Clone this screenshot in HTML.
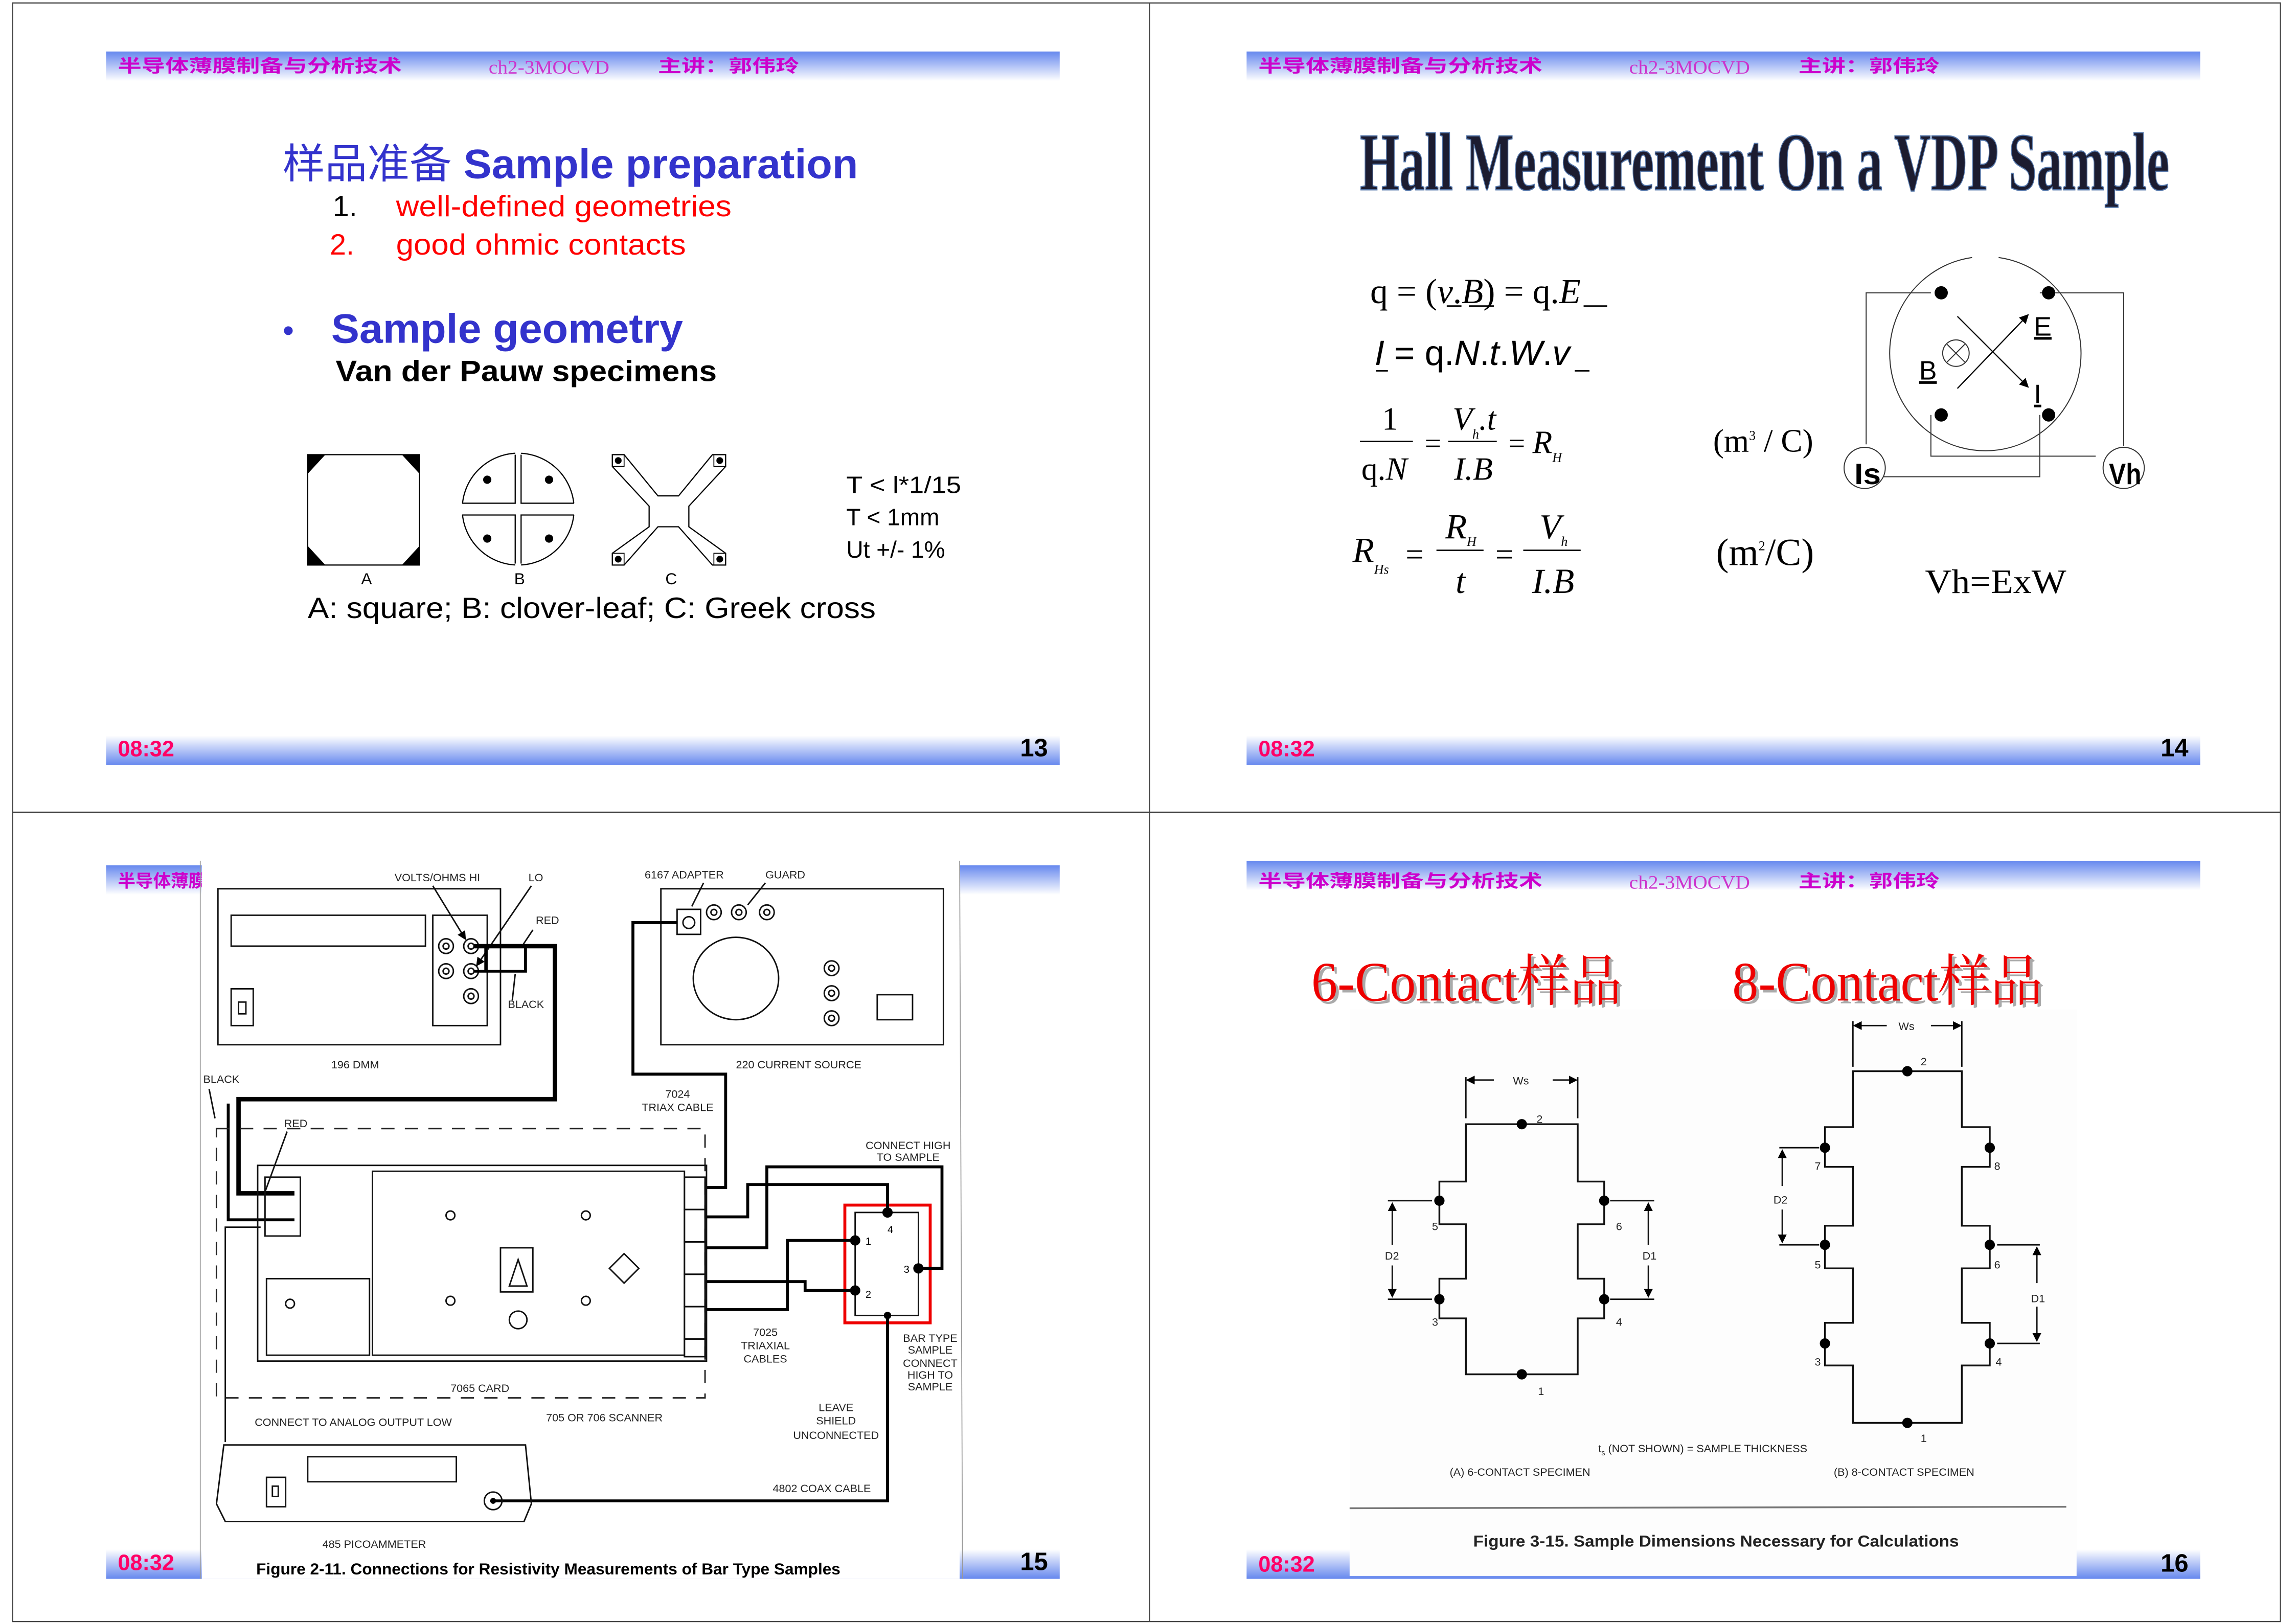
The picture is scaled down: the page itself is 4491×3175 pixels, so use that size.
<!DOCTYPE html>
<html><head><meta charset="utf-8"><style>
html,body{margin:0;padding:0;background:#fff;}
svg{display:block;}
text{font-family:"Liberation Sans","Noto Sans CJK SC",sans-serif;}
text.serif,.serif text{font-family:"Liberation Serif","Noto Serif CJK SC",serif;}
.hd{font-weight:bold;fill:#cc00cc;font-size:12px;}
text.hm{fill:#cc33cc;font-size:13px;font-family:"Liberation Serif",serif;}
.tm{font-weight:bold;fill:#ff0066;font-size:15px;}
.pg{font-weight:bold;fill:#000;font-size:17px;}
.sm{font-size:7.5px;fill:#222;}
.ln{stroke:#111;fill:none;stroke-width:1;}
.tw{stroke:#000;fill:none;stroke-width:3;}
</style></head><body>
<svg width="4491" height="3175" viewBox="0 0 1560 1103" xmlns="http://www.w3.org/2000/svg">
<defs>
<linearGradient id="hg" x1="0" y1="0" x2="0" y2="1"><stop offset="0" stop-color="#6688ee"/><stop offset="1" stop-color="#ffffff"/></linearGradient>
<linearGradient id="fg" x1="0" y1="0" x2="0" y2="1"><stop offset="0" stop-color="#ffffff"/><stop offset="1" stop-color="#6688ee"/></linearGradient>
<marker id="ar" markerWidth="8" markerHeight="8" refX="7" refY="4" orient="auto"><path d="M0,0 L8,4 L0,8 z" fill="#000"/></marker>
<marker id="sa" markerWidth="6" markerHeight="6" refX="5" refY="3" orient="auto"><path d="M0,0 L6,3 L0,6 z" fill="#000"/></marker>
</defs>
<rect x="0" y="0" width="1560" height="1103" fill="#fff"/>
<rect x="8.5" y="2" width="1541" height="1100" fill="none" stroke="#444" stroke-width="0.8"/>
<line x1="781" y1="2" x2="781" y2="1102" stroke="#444" stroke-width="0.8"/>
<line x1="8.5" y1="552" x2="1550" y2="552" stroke="#444" stroke-width="0.8"/>

<!-- ================= SLIDE 1 ================= -->
<rect x="72" y="35" width="648" height="20" fill="url(#hg)"/>
<rect x="72" y="500" width="648" height="20" fill="url(#fg)"/>
<text x="80" y="49" class="hd" textLength="193" lengthAdjust="spacingAndGlyphs">半导体薄膜制备与分析技术</text>
<text x="332" y="50" class="hm" textLength="82" lengthAdjust="spacingAndGlyphs">ch2-3MOCVD</text>
<text x="447" y="49" class="hd" textLength="96" lengthAdjust="spacingAndGlyphs">主讲：郭伟玲</text>
<text x="80" y="514" class="tm">08:32</text>
<text x="712" y="514" class="pg" text-anchor="end">13</text>

<text x="192" y="121" font-size="28" fill="#3333cc" textLength="391" lengthAdjust="spacingAndGlyphs">样品准备 <tspan font-weight="bold">Sample preparation</tspan></text>
<text x="226" y="147" font-size="20" fill="#000">1.</text>
<text x="269" y="147" font-size="20" fill="#ff0000" textLength="228" lengthAdjust="spacingAndGlyphs">well-defined geometries</text>
<text x="224" y="173" font-size="20" fill="#ff0000">2.</text>
<text x="269" y="173" font-size="20" fill="#ff0000" textLength="197" lengthAdjust="spacingAndGlyphs">good ohmic contacts</text>
<text x="192" y="232" font-size="22" fill="#3333cc">•</text>
<text x="225" y="233" font-size="28" font-weight="bold" fill="#3333cc" textLength="239" lengthAdjust="spacingAndGlyphs">Sample geometry</text>
<text x="228" y="259" font-size="20" font-weight="bold" fill="#000" textLength="259" lengthAdjust="spacingAndGlyphs">Van der Pauw specimens</text>

<rect x="209" y="309" width="76" height="75" fill="#fff" stroke="#000" stroke-width="0.8"/>
<path d="M209,309 L221,309 L209,322 Z M285,309 L273,309 L285,322 Z M209,384 L209,371 L221,384 Z M285,384 L285,371 L273,384 Z" fill="#000"/>
<text x="249" y="397" font-size="11" text-anchor="middle">A</text>
<ellipse cx="352" cy="346" rx="38" ry="38" fill="#fff" stroke="#000" stroke-width="0.8"/>
<rect x="350" y="307" width="4" height="78" fill="#fff"/><rect x="313" y="342" width="78" height="8" fill="#fff"/>
<path d="M350,309 V342 H314 M354,309 V342 H390 M350,383 V350 H314 M354,383 V350 H390" fill="none" stroke="#000" stroke-width="0.8"/>
<circle cx="331" cy="326" r="2.8"/><circle cx="373" cy="326" r="2.8"/><circle cx="331" cy="366" r="2.8"/><circle cx="373" cy="366" r="2.8"/>
<text x="353" y="397" font-size="11" text-anchor="middle">B</text>
<path d="M416,309 H424 L447,337 H461 L484,309 H493 V317 L468,344 V358 L493,376 V384 H484 L461,358 H447 L424,384 H416 V376 L441,358 V344 L416,317 Z" fill="#fff" stroke="#000" stroke-width="0.8"/>
<rect x="416" y="309" width="8" height="8" fill="none" stroke="#000" stroke-width="0.6"/><rect x="485" y="309" width="8" height="8" fill="none" stroke="#000" stroke-width="0.6"/>
<rect x="416" y="376" width="8" height="8" fill="none" stroke="#000" stroke-width="0.6"/><rect x="485" y="376" width="8" height="8" fill="none" stroke="#000" stroke-width="0.6"/>
<circle cx="420" cy="313" r="2.3"/><circle cx="489" cy="313" r="2.3"/><circle cx="420" cy="380" r="2.3"/><circle cx="489" cy="380" r="2.3"/>
<text x="456" y="397" font-size="11" text-anchor="middle">C</text>
<text x="575" y="335" font-size="16" textLength="78" lengthAdjust="spacingAndGlyphs">T &lt; l*1/15</text>
<text x="575" y="357" font-size="16">T &lt; 1mm</text>
<text x="575" y="379" font-size="16">Ut +/- 1%</text>
<text x="209" y="420" font-size="20" textLength="386" lengthAdjust="spacingAndGlyphs">A: square; B: clover-leaf; C: Greek cross</text>

<!-- ================= SLIDE 2 ================= -->
<rect x="847" y="35" width="648" height="20" fill="url(#hg)"/>
<rect x="847" y="500" width="648" height="20" fill="url(#fg)"/>
<text x="855" y="49" class="hd" textLength="193" lengthAdjust="spacingAndGlyphs">半导体薄膜制备与分析技术</text>
<text x="1107" y="50" class="hm" textLength="82" lengthAdjust="spacingAndGlyphs">ch2-3MOCVD</text>
<text x="1222" y="49" class="hd" textLength="96" lengthAdjust="spacingAndGlyphs">主讲：郭伟玲</text>
<text x="855" y="514" class="tm">08:32</text>
<text x="1487" y="514" class="pg" text-anchor="end">14</text>

<text x="924" y="129" class="serif" font-size="56" font-weight="bold" fill="#1c1c30" stroke="#5577aa" stroke-width="0.8" textLength="550" lengthAdjust="spacingAndGlyphs">Hall Measurement On a VDP Sample</text>

<g fill="#000">
<text class="serif" x="931" y="206" font-size="24">q = (<tspan font-style="italic">v</tspan>.<tspan font-style="italic">B</tspan>) = q.<tspan font-style="italic">E</tspan></text>
<line x1="983" y1="208" x2="993" y2="208" stroke="#000"/><line x1="998" y1="208" x2="1015" y2="208" stroke="#000"/><line x1="1076" y1="208" x2="1092" y2="208" stroke="#000"/>
<text x="934" y="248" font-size="24"><tspan font-style="italic">I</tspan> = q.<tspan font-style="italic">N</tspan>.<tspan font-style="italic">t</tspan>.<tspan font-style="italic">W</tspan>.<tspan font-style="italic">v</tspan></text>
<line x1="935" y1="252" x2="943" y2="252" stroke="#000"/><line x1="1070" y1="252" x2="1080" y2="252" stroke="#000"/>
<text class="serif" x="939" y="292" font-size="22">1</text>
<line x1="924" y1="300" x2="960" y2="300" stroke="#000"/>
<text class="serif" x="925" y="326" font-size="22">q.<tspan font-style="italic">N</tspan></text>
<text class="serif" x="968" y="308" font-size="20">=</text>
<text class="serif" x="987" y="292" font-size="22" font-style="italic">V<tspan font-size="9" dy="6">h</tspan><tspan dy="-6">.t</tspan></text>
<line x1="984" y1="300" x2="1017" y2="300" stroke="#000"/>
<text class="serif" x="988" y="326" font-size="22" font-style="italic">I.B</text>
<text class="serif" x="1025" y="308" font-size="20">= <tspan font-style="italic" font-size="22">R</tspan><tspan font-size="9" font-style="italic" dy="6">H</tspan></text>
<text class="serif" x="1164" y="307" font-size="22">(m<tspan font-size="9" dy="-8">3</tspan><tspan dy="8"> / C)</tspan></text>
<text class="serif" x="919" y="382" font-size="24" font-style="italic">R<tspan font-size="9" dy="8">Hs</tspan></text>
<text class="serif" x="955" y="384" font-size="22">=</text>
<text class="serif" x="982" y="366" font-size="24" font-style="italic">R<tspan font-size="9" dy="5">H</tspan></text>
<line x1="976" y1="374" x2="1008" y2="374" stroke="#000"/>
<text class="serif" x="989" y="403" font-size="24" font-style="italic">t</text>
<text class="serif" x="1016" y="384" font-size="22">=</text>
<text class="serif" x="1046" y="366" font-size="24" font-style="italic">V<tspan font-size="9" dy="5">h</tspan></text>
<line x1="1035" y1="374" x2="1074" y2="374" stroke="#000"/>
<text class="serif" x="1041" y="403" font-size="24" font-style="italic">I.B</text>
<text class="serif" x="1166" y="384" font-size="26">(m<tspan font-size="9" dy="-10">2</tspan><tspan dy="10">/C)</tspan></text>
<text class="serif" x="1308" y="403" font-size="23" textLength="96" lengthAdjust="spacingAndGlyphs">Vh=ExW</text>
</g>
<path d="M1340,175 A65,66 0 1 0 1358,175" fill="none" stroke="#333" stroke-width="0.7"/>
<path d="M1312,199 H1268 V302 M1386,199 H1443 V303 M1312,282 V310 H1424 M1386,282 V324 H1276" fill="none" stroke="#333" stroke-width="0.7"/>
<circle cx="1319" cy="199" r="4.5"/><circle cx="1392" cy="199" r="4.5"/><circle cx="1319" cy="282" r="4.5"/><circle cx="1392" cy="282" r="4.5"/>
<circle cx="1267" cy="318" r="14" fill="#fff" stroke="#333" stroke-width="0.7"/>
<circle cx="1443" cy="318" r="14" fill="#fff" stroke="#333" stroke-width="0.7"/>
<text x="1260" y="329" font-size="20" font-weight="bold" textLength="18" lengthAdjust="spacingAndGlyphs">Is</text>
<text x="1433" y="329" font-size="20" font-weight="bold" textLength="22" lengthAdjust="spacingAndGlyphs">Vh</text>
<circle cx="1329" cy="240" r="9" fill="none" stroke="#333" stroke-width="0.7"/>
<path d="M1323,234 L1335,246 M1335,234 L1323,246" stroke="#333" stroke-width="0.7"/>
<text x="1304" y="258" font-size="18" text-decoration="underline">B</text>
<line x1="1330" y1="264" x2="1378" y2="214" stroke="#000" stroke-width="0.8" marker-end="url(#ar)"/>
<line x1="1330" y1="215" x2="1378" y2="263" stroke="#000" stroke-width="0.8" marker-end="url(#ar)"/>
<text x="1382" y="228" font-size="18" text-decoration="underline">E</text>
<text x="1382" y="274" font-size="18" text-decoration="underline">I</text>

<!-- ================= SLIDE 3 ================= -->
<rect x="72" y="588" width="648" height="20" fill="url(#hg)"/>
<rect x="72" y="1053" width="648" height="20" fill="url(#fg)"/>
<text x="80" y="603" class="hd">半导体薄膜制备与分析技术</text>
<rect x="137" y="585" width="515" height="488" fill="#fff"/>
<line x1="136" y1="585" x2="136" y2="1073" stroke="#999" stroke-width="0.6"/>
<line x1="652" y1="585" x2="654" y2="1073" stroke="#999" stroke-width="0.6"/>
<text x="80" y="1067" class="tm">08:32</text>
<text x="712" y="1067" class="pg" text-anchor="end">15</text>
<rect x="148" y="604" width="192" height="106" class="ln"/>
<rect x="157" y="622" width="132" height="21" class="ln"/>
<rect x="294" y="622" width="37" height="75" class="ln"/>
<rect x="157" y="672" width="15" height="25" class="ln"/><rect x="162" y="681" width="5" height="8" class="ln"/>
<g class="ln"><circle cx="303" cy="643" r="5"/><circle cx="303" cy="643" r="2"/><circle cx="320" cy="643" r="5"/><circle cx="320" cy="643" r="2"/>
<circle cx="303" cy="660" r="5"/><circle cx="303" cy="660" r="2"/><circle cx="320" cy="660" r="5"/><circle cx="320" cy="660" r="2"/>
<circle cx="320" cy="677" r="5"/><circle cx="320" cy="677" r="2"/></g>
<text x="268" y="599" class="sm">VOLTS/OHMS  HI</text><text x="359" y="599" class="sm">LO</text>
<text x="364" y="628" class="sm">RED</text><text x="345" y="685" class="sm">BLACK</text><text x="225" y="726" class="sm">196 DMM</text>
<line x1="294" y1="602" x2="316" y2="638" class="ln" marker-end="url(#sa)"/>
<line x1="361" y1="602" x2="324" y2="656" class="ln" marker-end="url(#sa)"/>
<line x1="362" y1="632" x2="354" y2="644" class="ln"/><line x1="348" y1="680" x2="350" y2="662" class="ln"/>
<path d="M322,643 H377 V747 H162 V811 H200" class="tw"/>
<path d="M322,660 H357 V644 M330,644 V660" stroke="#000" stroke-width="2" fill="none"/>
<path d="M155,750 V829 H200" stroke="#000" stroke-width="2" fill="none"/>
<rect x="449" y="604" width="192" height="106" class="ln"/>
<ellipse cx="500" cy="665" rx="29" ry="28" class="ln"/>
<rect x="460" y="618" width="16" height="17" class="ln"/><circle cx="468" cy="627" r="4" class="ln"/>
<g class="ln"><circle cx="485" cy="620" r="5"/><circle cx="485" cy="620" r="2"/><circle cx="502" cy="620" r="5"/><circle cx="502" cy="620" r="2"/><circle cx="521" cy="620" r="5"/><circle cx="521" cy="620" r="2"/>
<circle cx="565" cy="658" r="5"/><circle cx="565" cy="658" r="2"/><circle cx="565" cy="675" r="5"/><circle cx="565" cy="675" r="2"/><circle cx="565" cy="692" r="5"/><circle cx="565" cy="692" r="2"/></g>
<rect x="596" y="676" width="24" height="17" class="ln"/>
<text x="438" y="597" class="sm">6167 ADAPTER</text><text x="520" y="597" class="sm">GUARD</text>
<line x1="478" y1="600" x2="470" y2="616" class="ln"/><line x1="520" y1="600" x2="508" y2="615" class="ln"/>
<text x="500" y="726" class="sm">220 CURRENT SOURCE</text>
<path d="M460,627 H430 V730 H493 V807 H480" stroke="#000" stroke-width="2" fill="none"/>
<text x="452" y="746" class="sm">7024</text><text x="436" y="755" class="sm">TRIAX CABLE</text>
<text x="138" y="736" class="sm">BLACK</text><text x="193" y="766" class="sm">RED</text>
<line x1="142" y1="740" x2="146" y2="760" class="ln"/><line x1="195" y1="769" x2="180" y2="810" class="ln"/>
<rect x="147" y="767" width="332" height="183" fill="none" stroke="#222" stroke-width="1" stroke-dasharray="9,7"/>
<rect x="175" y="792" width="305" height="133" class="ln"/>
<rect x="253" y="796" width="212" height="125" class="ln"/>
<rect x="181" y="869" width="70" height="52" class="ln"/>
<rect x="180" y="800" width="24" height="40" class="ln"/>
<g class="ln"><rect x="465" y="800" width="14" height="22"/><rect x="465" y="822" width="14" height="22"/><rect x="465" y="844" width="14" height="22"/><rect x="465" y="866" width="14" height="22"/><rect x="465" y="888" width="14" height="22"/><rect x="465" y="910" width="14" height="12"/></g>
<g class="ln" stroke-width="0.6"><circle cx="306" cy="826" r="3"/><circle cx="398" cy="826" r="3"/><circle cx="306" cy="884" r="3"/><circle cx="398" cy="884" r="3"/><circle cx="352" cy="897" r="6"/><rect x="340" y="848" width="22" height="30"/><path d="M346,874 L352,856 L358,874 Z"/><path d="M424,852 L434,862 L424,872 L414,862 Z"/><circle cx="197" cy="886" r="3"/></g>
<text x="306" y="946" class="sm">7065 CARD</text>
<text x="173" y="969" class="sm">CONNECT TO ANALOG OUTPUT LOW</text>
<text x="371" y="966" class="sm">705 OR 706 SCANNER</text>
<path d="M177,834 H153 V980" class="ln"/>
<rect x="574" y="819" width="58" height="80" fill="none" stroke="#e00" stroke-width="2"/>
<rect x="581" y="824" width="43" height="70" class="ln"/>
<path d="M480,827 H508 V805 H603 V823 M480,848 H521 V793 H640 V862 H623 M480,871 H547 V877 H581 M480,890 H535 V843 H581 M603,894 V1020 H334" stroke="#000" stroke-width="2" fill="none"/>
<circle cx="603" cy="824" r="3.5"/><circle cx="581" cy="843" r="3.5"/><circle cx="624" cy="862" r="3.5"/><circle cx="581" cy="877" r="3.5"/><circle cx="603" cy="894" r="2.5"/>
<text x="603" y="838" font-size="7">4</text><text x="588" y="846" font-size="7">1</text><text x="614" y="865" font-size="7">3</text><text x="588" y="882" font-size="7">2</text>
<text x="617" y="781" class="sm" text-anchor="middle">CONNECT HIGH</text><text x="617" y="789" class="sm" text-anchor="middle">TO SAMPLE</text>
<text x="520" y="908" class="sm" text-anchor="middle">7025</text><text x="520" y="917" class="sm" text-anchor="middle">TRIAXIAL</text><text x="520" y="926" class="sm" text-anchor="middle">CABLES</text>
<g class="sm" text-anchor="middle"><text x="632" y="912">BAR TYPE</text><text x="632" y="920">SAMPLE</text><text x="632" y="929">CONNECT</text><text x="632" y="937">HIGH TO</text><text x="632" y="945">SAMPLE</text></g>
<g class="sm" text-anchor="middle"><text x="568" y="959">LEAVE</text><text x="568" y="968">SHIELD</text><text x="568" y="978">UNCONNECTED</text></g>
<text x="525" y="1014" class="sm">4802 COAX CABLE</text>
<path d="M152,982 H357 L361,1022 L356,1034 H153 L147,1022 Z" class="ln"/>
<rect x="209" y="990" width="101" height="17" class="ln"/>
<rect x="181" y="1004" width="13" height="20" class="ln"/><rect x="185" y="1010" width="4" height="7" class="ln"/>
<circle cx="335" cy="1020" r="6" class="ln"/><circle cx="335" cy="1020" r="2"/>
<text x="219" y="1052" class="sm">485 PICOAMMETER</text>
<text x="174" y="1070" font-size="11" font-weight="bold" textLength="397" lengthAdjust="spacingAndGlyphs">Figure 2-11. Connections for Resistivity Measurements of Bar Type Samples</text>

<!-- ================= SLIDE 4 ================= -->
<rect x="847" y="585" width="648" height="20" fill="url(#hg)"/>
<rect x="847" y="1053" width="648" height="20" fill="url(#fg)"/>
<text x="855" y="603" class="hd" textLength="193" lengthAdjust="spacingAndGlyphs">半导体薄膜制备与分析技术</text>
<text x="1107" y="604" class="hm" textLength="82" lengthAdjust="spacingAndGlyphs">ch2-3MOCVD</text>
<text x="1222" y="603" class="hd" textLength="96" lengthAdjust="spacingAndGlyphs">主讲：郭伟玲</text>
<rect x="917" y="686" width="494" height="385" fill="#fdfdfd"/>
<text x="855" y="1068" class="tm">08:32</text>
<text x="1487" y="1068" class="pg" text-anchor="end">16</text>
<text x="893" y="682" class="serif" font-size="38" fill="#aaa" textLength="211" lengthAdjust="spacingAndGlyphs">6-Contact样品</text>
<text x="891" y="680" class="serif" font-size="38" fill="#ee0000" textLength="211" lengthAdjust="spacingAndGlyphs">6-Contact样品</text>
<text x="1179" y="682" class="serif" font-size="38" fill="#aaa" textLength="211" lengthAdjust="spacingAndGlyphs">8-Contact样品</text>
<text x="1177" y="680" class="serif" font-size="38" fill="#ee0000" textLength="211" lengthAdjust="spacingAndGlyphs">8-Contact样品</text>
<path d="M996,764 H1072 V803 H1090 V832 H1072 V869 H1090 V896 H1072 V934 H996 V896 H978 V869 H996 V832 H978 V803 H996 Z" fill="none" stroke="#111" stroke-width="1.2"/>
<g><circle cx="1034" cy="764" r="3.5"/><circle cx="1034" cy="934" r="3.5"/><circle cx="978" cy="816" r="3.5"/><circle cx="978" cy="883" r="3.5"/><circle cx="1090" cy="816" r="3.5"/><circle cx="1090" cy="883" r="3.5"/></g>
<path d="M996,732 V760 M1072,732 V760" class="ln" stroke-width="0.7"/>
<line x1="1015" y1="734" x2="997" y2="734" class="ln" stroke-width="0.7" marker-end="url(#sa)"/><line x1="1055" y1="734" x2="1071" y2="734" class="ln" stroke-width="0.7" marker-end="url(#sa)"/>
<text x="1028" y="737" class="sm">Ws</text>
<path d="M943,816 H973 M943,883 H973 M1094,816 H1124 M1094,883 H1124" class="ln" stroke-width="0.7"/>
<line x1="946" y1="846" x2="946" y2="818" class="ln" stroke-width="0.7" marker-end="url(#sa)"/><line x1="946" y1="860" x2="946" y2="881" class="ln" stroke-width="0.7" marker-end="url(#sa)"/>
<line x1="1120" y1="846" x2="1120" y2="818" class="ln" stroke-width="0.7" marker-end="url(#sa)"/><line x1="1120" y1="860" x2="1120" y2="881" class="ln" stroke-width="0.7" marker-end="url(#sa)"/>
<text x="941" y="856" class="sm">D2</text><text x="1116" y="856" class="sm">D1</text>
<g class="sm"><text x="1044" y="763">2</text><text x="1045" y="948">1</text><text x="973" y="836">5</text><text x="973" y="901">3</text><text x="1098" y="836">6</text><text x="1098" y="901">4</text></g>
<path d="M1259,728 H1333 V766 H1352 V793 H1333 V833 H1352 V862 H1333 V899 H1352 V928 H1333 V967 H1259 V928 H1240 V899 H1259 V862 H1240 V833 H1259 V793 H1240 V766 H1259 Z" fill="none" stroke="#111" stroke-width="1.2"/>
<g><circle cx="1296" cy="728" r="3.5"/><circle cx="1296" cy="967" r="3.5"/><circle cx="1240" cy="780" r="3.5"/><circle cx="1240" cy="846" r="3.5"/><circle cx="1240" cy="913" r="3.5"/><circle cx="1352" cy="780" r="3.5"/><circle cx="1352" cy="846" r="3.5"/><circle cx="1352" cy="913" r="3.5"/></g>
<path d="M1259,694 V725 M1333,694 V725" class="ln" stroke-width="0.7"/>
<line x1="1282" y1="697" x2="1260" y2="697" class="ln" stroke-width="0.7" marker-end="url(#sa)"/><line x1="1312" y1="697" x2="1332" y2="697" class="ln" stroke-width="0.7" marker-end="url(#sa)"/>
<text x="1290" y="700" class="sm">Ws</text>
<path d="M1209,780 H1236 M1209,846 H1236 M1357,846 H1386 M1357,913 H1386" class="ln" stroke-width="0.7"/>
<line x1="1211" y1="806" x2="1211" y2="782" class="ln" stroke-width="0.7" marker-end="url(#sa)"/><line x1="1211" y1="822" x2="1211" y2="844" class="ln" stroke-width="0.7" marker-end="url(#sa)"/>
<line x1="1384" y1="872" x2="1384" y2="848" class="ln" stroke-width="0.7" marker-end="url(#sa)"/><line x1="1384" y1="888" x2="1384" y2="911" class="ln" stroke-width="0.7" marker-end="url(#sa)"/>
<text x="1205" y="818" class="sm">D2</text><text x="1380" y="885" class="sm">D1</text>
<g class="sm"><text x="1305" y="724">2</text><text x="1305" y="980">1</text><text x="1233" y="795">7</text><text x="1233" y="862">5</text><text x="1233" y="928">3</text><text x="1355" y="795">8</text><text x="1355" y="862">6</text><text x="1356" y="928">4</text></g>
<text x="1086" y="987" class="sm">t<tspan font-size="5" dy="2">s</tspan><tspan dy="-2"> (NOT SHOWN)  =  SAMPLE THICKNESS</tspan></text>
<text x="985" y="1003" class="sm">(A) 6-CONTACT SPECIMEN</text>
<text x="1246" y="1003" class="sm">(B) 8-CONTACT SPECIMEN</text>
<line x1="917" y1="1025" x2="1404" y2="1024" stroke="#777" stroke-width="1.2"/>
<text x="1001" y="1051" font-size="11" font-weight="bold" fill="#222" textLength="330" lengthAdjust="spacingAndGlyphs">Figure 3-15. Sample Dimensions Necessary for Calculations</text>
</svg>
</body></html>
